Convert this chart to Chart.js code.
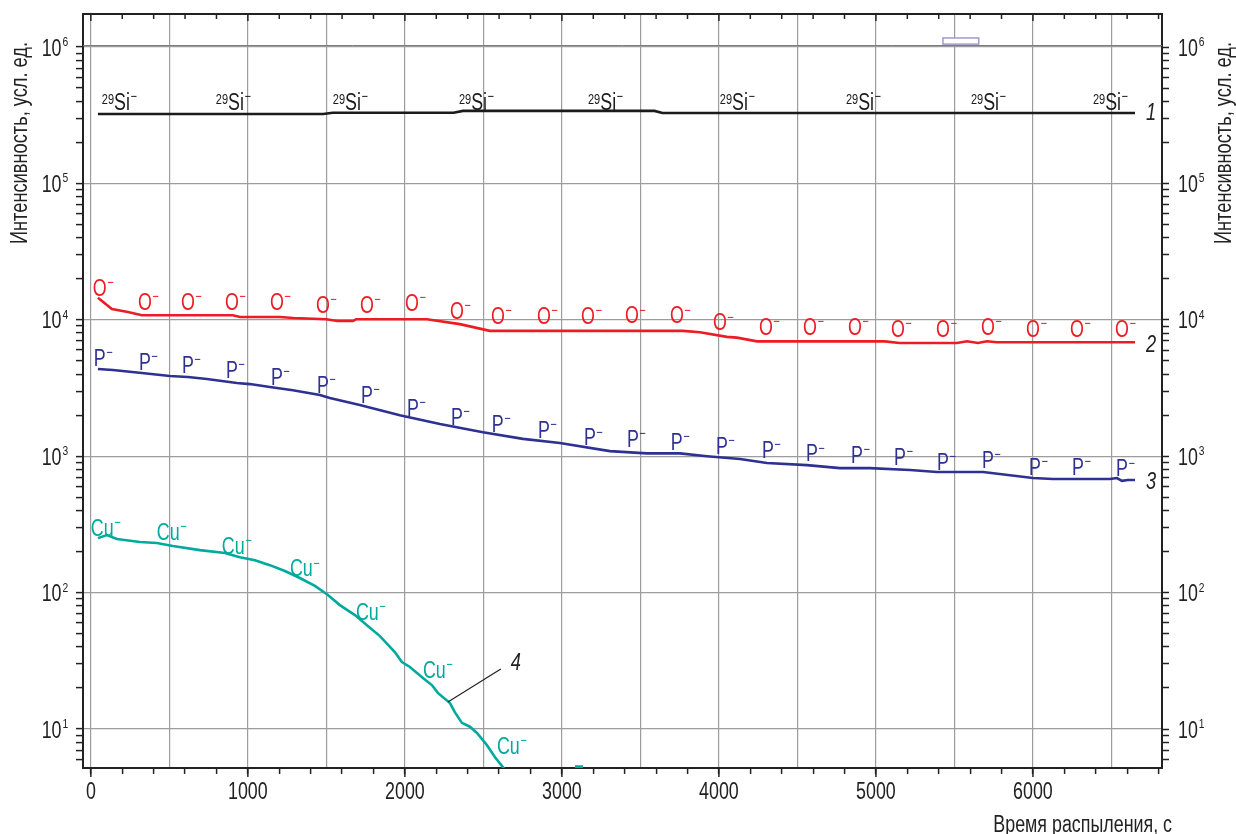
<!DOCTYPE html>
<html><head><meta charset="utf-8">
<script src="https://cdn.jsdelivr.net/npm/chart.js@4/dist/chart.umd.min.js"></script>
<style>html,body{margin:0;padding:0;background:#fff}canvas{display:block}</style>
</head><body>
<canvas id="c" width="1236" height="834"></canvas>
<script>
// ---------- data (time in s, intensity in arb. units) ----------
const siTime  = [45, 1480, 1540, 2310, 2370, 3590, 3640, 6650];
const siValue = [3.23e5, 3.23e5, 3.3e5, 3.3e5, 3.4e5, 3.4e5, 3.28e5, 3.28e5];

const oTime  = [45,134,236,325,904,950,1204,1290,1500,1570,1670,1690,2140,2350,2541,3771,3879,4051,4115,4242,5057,5150,5516,5580,5650,5707,5770,6650];
const oValue = [1.45e4,1.2e4,1.14e4,1.08e4,1.08e4,1.05e4,1.05e4,1.03e4,1.01e4,9.8e3,9.8e3,1.01e4,1.01e4,9.3e3,8.3e3,8.3e3,8.1e3,7.5e3,7.4e3,6.95e3,6.95e3,6.77e3,6.77e3,6.97e3,6.77e3,6.97e3,6.85e3,6.85e3];

const pTime  = [45,140,325,503,618,739,930,1013,1140,1287,1459,1522,1713,1968,2223,2497,2752,2987,3306,3541,3752,3924,4134,4306,4561,4771,4962,5217,5389,5682,6000,6127,6490,6535,6567,6605,6650];
const pValue = [4.36e3,4.29e3,4.07e3,3.87e3,3.81e3,3.68e3,3.44e3,3.38e3,3.22e3,3.05e3,2.81e3,2.67e3,2.37e3,2.0e3,1.72e3,1.5e3,1.34e3,1.25e3,1.09e3,1.05e3,1.05e3,1.0e3,953,891,861,818,818,792,766,766,692,680,680,692,660,670,670];

const cuTime  = [45,102,166,312,420,522,694,854,949,1045,1140,1236,1331,1427,1510,1586,1682,1764,1841,1936,1981,2032,2115,2172,2210,2287,2318,2363,2414,2459,2522,2573,2624,2669,2700,3083,3134];
const cuValue = [251,264,247,235,231,220,205,195,182,173,159,144,128,112,96,81,68.5,57,48,36.7,31,28.5,23.7,21,18.4,15.5,13.3,11.1,10.4,9.35,7.64,6.24,5.26,4.37,null,5.3,5.3];

// ---------- axes ----------
const xMin = -50, xMax = 6822;
const yMin = 5.18, yMax = 1.746e6;
const xTickValues = Array.from({length: 69}, (_, i) => i * 100);   // 0..6800
const xLabelValues = [0, 1000, 2000, 3000, 4000, 5000, 6000];
const yDecades = [1, 2, 3, 4, 5, 6];

// ---------- texts / annotations (data coordinates) ----------
const xTitle = 'Время распыления, с';
const yTitle = 'Интенсивность, усл. ед.';

const siLabelTime  = [70, 796, 1541, 2344, 3166, 4006, 4809, 5605, 6382];
const siLabelValue = [3.95e5, 3.95e5, 3.95e5, 3.95e5, 3.95e5, 3.95e5, 3.95e5, 3.95e5, 3.95e5];
const oLabelTime  = [57,344,618,898,1185,1478,1758,2045,2331,2592,2885,3166,3446,3732,4006,4299,4580,4866,5140,5427,5713,6000,6280,6567];
const oLabelValue = [1.71e4,1.35e4,1.35e4,1.35e4,1.35e4,1.29e4,1.29e4,1.33e4,1.16e4,1.07e4,1.07e4,1.07e4,1.08e4,1.08e4,9.6e3,8.85e3,8.85e3,8.85e3,8.57e3,8.57e3,8.85e3,8.57e3,8.57e3,8.57e3];
const pLabelTime  = [57,344,618,898,1185,1478,1758,2051,2331,2592,2885,3178,3452,3732,4019,4312,4592,4879,5153,5427,5713,6013,6287,6567];
const pLabelValue = [5.25e3,4.91e3,4.67e3,4.29e3,3.81e3,3.33e3,2.81e3,2.26e3,1.94e3,1.72e3,1.56e3,1.38e3,1.34e3,1.27e3,1.19e3,1.11e3,1.05e3,1.02e3,986,906,938,834,834,818];
const cuLabelTime  = [0,420,834,1268,1688,2115,2586];
const cuLabelValue = [298,278,220,151,72,27.1,7.5];

const curveNumbers = ['1', '2', '3', '4'];
const curveNumberTime  = [6752, 6752, 6752, 2707];
const curveNumberValue = [3.35e5, 6.64e3, 658, 31];
const leaderTime  = [2274, 2611];
const leaderValue = [15.8, 27.5];
const markerTime  = [5427, 5655];
const markerValue = [1.05e6, 1.165e6];

// ---------- styles ----------
const C_SI = '#1b1b1b', C_O = '#ec1c24', C_P = '#2e3192', C_CU = '#00a99d';
const GRID = '#9c9c9c', AXIS = '#222222';
const FS = 23.5, FSUP = 14.5, CAP = 0.69;

// font detection
function hasFont(name){
  const c = document.createElement('canvas').getContext('2d');
  const s = 'abcdefghijklmИнтенсивность0123';
  c.font = '40px monospace'; const a = c.measureText(s).width;
  c.font = '40px "' + name + '", monospace'; const b = c.measureText(s).width;
  return Math.abs(a - b) > 0.5;
}
const NARROW = hasFont('Liberation Sans Narrow');
const SX = NARROW ? 0.92 : 0.76;
function fnt(size, italic){
  return (italic ? 'italic ' : '') + size + 'px ' + (NARROW ? '"Liberation Sans Narrow"' : '"Liberation Sans", Arial, sans-serif');
}
function tw(ctx, s, size, italic){ ctx.font = fnt(size, italic); return ctx.measureText(s).width * SX; }
function txt(ctx, s, x, y, size, color, align, italic, rot){
  ctx.save(); ctx.translate(x, y); if (rot) ctx.rotate(rot); ctx.scale(SX, 1);
  ctx.font = fnt(size, italic); ctx.fillStyle = color; ctx.textAlign = align || 'left';
  ctx.textBaseline = 'alphabetic'; ctx.fillText(s, 0, 0); ctx.restore();
}
// composite label: [pre-superscript] main [post-superscript minus]
function ionLabel(ctx, pre, main, x, cy, color, mode){
  const cap = CAP * FS;
  const base = cy + cap / 2, top = base - cap;
  const wPre = pre ? tw(ctx, pre, FSUP) : 0;
  const wMain = tw(ctx, main, FS);
  let left = mode === 'center' ? x - wMain / 2 - wPre : x;
  if (pre) txt(ctx, pre, left, top + CAP * FSUP, FSUP, color);
  txt(ctx, main, left + wPre, base, FS, color);
  txt(ctx, '\u2212', left + wPre + wMain + 0.5, top + 7.5, FSUP, color);
}

const isPow10 = v => Math.abs(Math.log10(v) - Math.round(Math.log10(v))) < 1e-9;
const yTickValues = [];
for (let n = 0; n <= 6; n++) for (let k = 1; k <= 9; k++) {
  const v = k * Math.pow(10, n); if (v >= yMin && v <= yMax) yTickValues.push(v);
}
const pts = (xs, ys) => xs.map((x, i) => ({x, y: ys[i]}));

const annot = {
  id: 'annot',
  beforeDatasetsDraw(chart){
    const {ctx, chartArea: a, scales: {x, y}} = chart;
    ctx.save();
    ctx.strokeStyle = '#7d7d7d'; ctx.lineWidth = 1;
    const yy = Math.round(y.getPixelForValue(1.03e6)) + 0.5;
    ctx.beginPath(); ctx.moveTo(a.left, yy); ctx.lineTo(a.right, yy); ctx.stroke();
    ctx.restore();
  },
  afterDraw(chart){
    const {ctx, chartArea: a, scales: {x, y}} = chart;
    ctx.save();
    // top frame line with inward ticks
    ctx.strokeStyle = AXIS; ctx.lineWidth = 2;
    ctx.beginPath(); ctx.moveTo(a.left - 1, a.top); ctx.lineTo(a.right + 1, a.top); ctx.stroke();
    ctx.lineWidth = 1.5;
    xTickValues.forEach(v => {
      if (v % 200 !== 0) return;
      const px = x.getPixelForValue(v);
      const L = v % 1000 === 0 ? 7 : 5;
      ctx.beginPath(); ctx.moveTo(px, a.top); ctx.lineTo(px, a.top + L); ctx.stroke();
      if (v % 1000 === 0) { ctx.beginPath(); ctx.moveTo(px, a.bottom); ctx.lineTo(px, a.bottom + 9); ctx.stroke(); }
    });
    // purple marker
    const mx0 = x.getPixelForValue(markerTime[0]), mx1 = x.getPixelForValue(markerTime[1]);
    const my0 = y.getPixelForValue(markerValue[0]), my1 = y.getPixelForValue(markerValue[1]);
    ctx.fillStyle = '#ffffff'; ctx.fillRect(mx0, my1, mx1 - mx0, my0 - my1);
    ctx.strokeStyle = '#a09ad0'; ctx.lineWidth = 1.5; ctx.strokeRect(mx0, my1, mx1 - mx0, my0 - my1);

    // x tick labels
    xLabelValues.forEach(v => txt(ctx, String(v), x.getPixelForValue(v), 799, FS, '#222', 'center'));
    // y tick labels (both sides)
    const w10 = tw(ctx, '10', FS);
    yDecades.forEach(p => {
      const py = y.getPixelForValue(Math.pow(10, p));
      txt(ctx, '10', 61.5, py + 8.5, FS, '#222', 'right');
      txt(ctx, String(p), 62.5, py - 1, 13.5, '#222', 'left');
      txt(ctx, '10', 1178, py + 8.5, FS, '#222', 'left');
      txt(ctx, String(p), 1178 + w10 + 1, py - 1, 13.5, '#222', 'left');
    });
    // axis titles
    txt(ctx, xTitle, 1172, 832, FS, '#222', 'right');
    txt(ctx, yTitle, 27, 143, 24, '#222', 'center', false, -Math.PI / 2);
    txt(ctx, yTitle, 1231, 143, 24, '#222', 'center', false, -Math.PI / 2);

    // ion labels
    siLabelTime.forEach((t, i) => ionLabel(ctx, '29', 'Si', x.getPixelForValue(t), y.getPixelForValue(siLabelValue[i]), C_SI, 'left'));
    oLabelTime.forEach((t, i) => ionLabel(ctx, '', 'O', x.getPixelForValue(t), y.getPixelForValue(oLabelValue[i]), C_O, 'center'));
    pLabelTime.forEach((t, i) => ionLabel(ctx, '', 'P', x.getPixelForValue(t), y.getPixelForValue(pLabelValue[i]), C_P, 'center'));
    cuLabelTime.forEach((t, i) => ionLabel(ctx, '', 'Cu', x.getPixelForValue(t), y.getPixelForValue(cuLabelValue[i]), C_CU, 'left'));

    // curve numbers
    curveNumbers.forEach((s, i) => {
      txt(ctx, s, x.getPixelForValue(curveNumberTime[i]), y.getPixelForValue(curveNumberValue[i]) + 8, 24, '#222', 'center', true);
    });
    ctx.strokeStyle = '#222'; ctx.lineWidth = 1.2;
    ctx.beginPath();
    ctx.moveTo(x.getPixelForValue(leaderTime[0]), y.getPixelForValue(leaderValue[0]));
    ctx.lineTo(x.getPixelForValue(leaderTime[1]), y.getPixelForValue(leaderValue[1]));
    ctx.stroke();
    ctx.restore();
  }
};

const ds = (data, color) => ({data, borderColor: color, backgroundColor: color, borderWidth: 2.6,
  pointRadius: 0, tension: 0, spanGaps: false, fill: false});

new Chart(document.getElementById('c'), {
  type: 'line',
  data: { datasets: [
    ds(pts(siTime, siValue), C_SI),
    ds(pts(oTime, oValue), C_O),
    ds(pts(pTime, pValue), C_P),
    ds(pts(cuTime, cuValue), C_CU)
  ]},
  options: {
    responsive: false, animation: false, devicePixelRatio: 1,
    layout: {padding: {top: 14, left: 0, right: 0, bottom: 0}},
    plugins: {legend: {display: false}, tooltip: {enabled: false}},
    scales: {
      x: {
        type: 'linear', position: 'bottom', min: xMin, max: xMax,
        afterBuildTicks: s => { s.ticks = xTickValues.map(v => ({value: v})); },
        afterFit: s => { s.height = 66; },
        ticks: {display: false, autoSkip: false},
        grid: {
          color: c => (c.tick && Math.round(c.tick.value) % 500 === 0) ? GRID : 'rgba(0,0,0,0)',
          tickColor: c => (c.tick && Math.round(c.tick.value) % 200 === 0) ? AXIS : 'rgba(0,0,0,0)',
          lineWidth: 1.2, tickWidth: 1.5, tickLength: 6, drawTicks: true
        },
        border: {color: AXIS, width: 2}
      },
      y: {
        type: 'logarithmic', position: 'left', min: yMin, max: yMax,
        afterBuildTicks: s => { s.ticks = yTickValues.map(v => ({value: v})); },
        afterFit: s => { s.width = 83; },
        ticks: {display: false, autoSkip: false},
        grid: {
          color: c => (c.tick && isPow10(c.tick.value)) ? GRID : 'rgba(0,0,0,0)',
          tickColor: AXIS, lineWidth: 1.2, tickWidth: 1.5, tickLength: 7
        },
        border: {color: AXIS, width: 2}
      },
      y2: {
        type: 'logarithmic', position: 'right', min: yMin, max: yMax,
        afterBuildTicks: s => { s.ticks = yTickValues.map(v => ({value: v})); },
        afterFit: s => { s.width = 74; },
        ticks: {display: false, autoSkip: false},
        grid: {drawOnChartArea: false, tickColor: AXIS, tickWidth: 1.5, tickLength: 7},
        border: {color: AXIS, width: 2}
      }
    }
  },
  plugins: [annot]
});
</script>
</body></html>
